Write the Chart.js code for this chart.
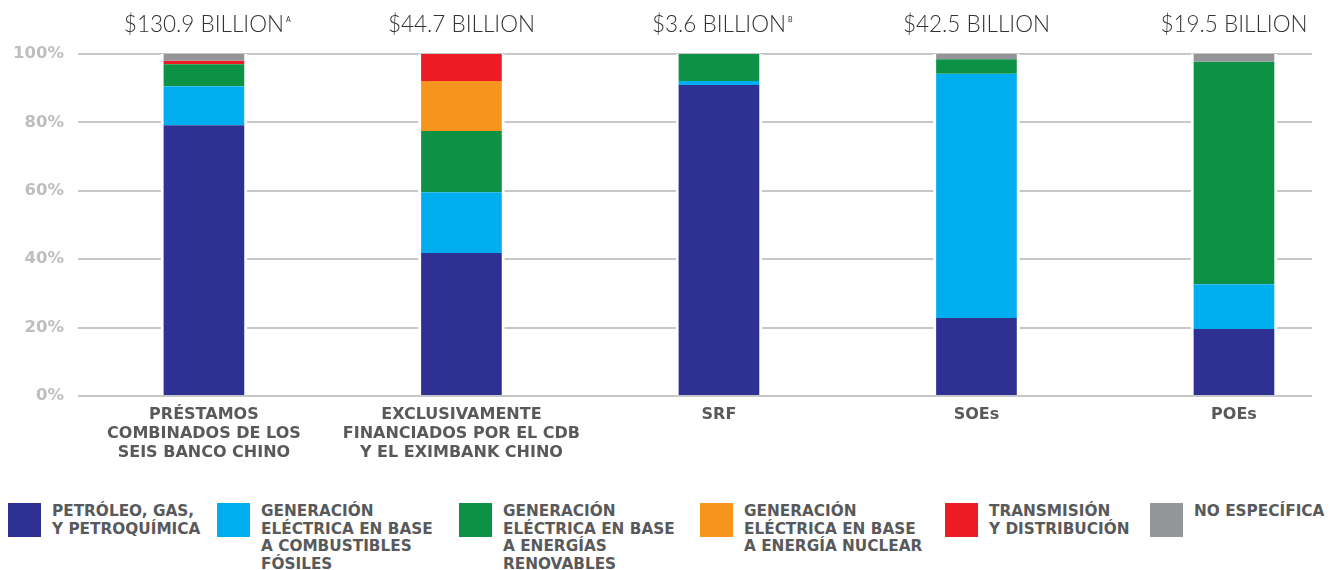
<!DOCTYPE html>
<html>
<head>
<meta charset="utf-8">
<script src="https://cdn.jsdelivr.net/npm/chart.js@4/dist/chart.umd.min.js"></script>
<style>
  html, body { margin: 0; padding: 0; background: #fff; width: 1333px; height: 570px; overflow: hidden; }
  #wrap { position: relative; width: 1333px; height: 570px; }
  #chart { position: absolute; left: 0; top: 0; }
  .lg-item { position: absolute; top: 503px; display: flex; align-items: flex-start; }
  .lg-box { width: 33px; height: 34px; flex: none; }
  .lg-text { margin-left: 11px; margin-top: 0px; font-family: "DejaVu Sans", sans-serif; font-weight: bold;
             font-size: 15.3px; line-height: 17.7px; color: #58595b; white-space: pre-line; }
</style>
</head>
<body>
<div id="wrap">
  <canvas id="chart" width="1333" height="470"></canvas>
  <div id="legend"></div>
</div>
<script>
// ---- data ----
const categories = [
  ["PRÉSTAMOS", "COMBINADOS DE LOS", "SEIS BANCO CHINO"],
  ["EXCLUSIVAMENTE", "FINANCIADOS POR EL CDB", "Y EL EXIMBANK CHINO"],
  ["SRF"],
  ["SOEs"],
  ["POEs"]
];
const totals = ["$130.9 BILLION", "$44.7 BILLION", "$3.6 BILLION", "$42.5 BILLION", "$19.5 BILLION"];
const totalNotes = ["A", "", "B", "", ""];

const seriesNames = [
  ["PETRÓLEO, GAS,", "Y PETROQUÍMICA"],
  ["GENERACIÓN", "ELÉCTRICA EN BASE", "A COMBUSTIBLES", "FÓSILES"],
  ["GENERACIÓN", "ELÉCTRICA EN BASE", "A ENERGÍAS", "RENOVABLES"],
  ["GENERACIÓN", "ELÉCTRICA EN BASE", "A ENERGÍA NUCLEAR"],
  ["TRANSMISIÓN", "Y DISTRIBUCIÓN"],
  ["NO ESPECÍFICA"]
];
const petroleo     = [79.2, 41.8, 90.9, 22.8, 19.6];
const fosiles      = [11.4, 17.8,  1.2, 71.4, 13.1];
const renovables   = [ 6.4, 17.9,  7.9,  4.3, 65.0];
const nuclear      = [ 0.0, 14.6,  0.0,  0.0,  0.0];
const transmision  = [ 1.0,  7.9,  0.0,  0.0,  0.0];
const noEspecifica = [ 2.0,  0.0,  0.0,  1.5,  2.3];

const yTickValues = [0, 20, 40, 60, 80, 100];

// ---- styles ----
const seriesColors = ["#2e3192", "#00aeef", "#0d9245", "#f7941d", "#ed1c24", "#939598"];
const legendLeft = [8, 217, 459, 700, 945, 1150];

const seriesValues = [petroleo, fosiles, renovables, nuclear, transmision, noEspecifica];

const datasets = seriesValues.map((vals, s) => ({
  label: seriesNames[s].join(" "),
  data: vals.map((v, i) => ({ x: i, y: v })),
  backgroundColor: seriesColors[s],
  borderColor: "#ffffff",
  borderWidth: { left: 3, right: 3, top: 0, bottom: 0 },
  borderSkipped: false,
  barThickness: 86
}));

const topLabels = {
  id: "topLabels",
  afterDatasetsDraw(chart) {
    const ctx = chart.ctx;
    const xs = chart.scales.x;
    ctx.save();
    ctx.fillStyle = "#333335";
    ctx.textBaseline = "alphabetic";
    totals.forEach((t, i) => {
      const x = xs.getPixelForValue(i);
      ctx.font = "300 22.5px Lato, 'Open Sans', sans-serif";
      ctx.textAlign = "center";
      ctx.fillText(t, x, 32);
      if (totalNotes[i]) {
        const w = ctx.measureText(t).width;
        ctx.font = "400 7px Lato, sans-serif";
        ctx.textAlign = "left";
        ctx.fillText(totalNotes[i], x + w / 2 + 2, 22);
      }
    });
    ctx.restore();
  }
};

new Chart(document.getElementById("chart"), {
  type: "bar",
  data: { datasets },
  plugins: [topLabels],
  options: {
    responsive: false,
    animation: false,
    devicePixelRatio: 1,
    layout: { padding: { top: 54, right: 21, left: 0, bottom: 0 } },
    plugins: { legend: { display: false }, tooltip: { enabled: false }, title: { display: false } },
    scales: {
      x: {
        type: "linear",
        stacked: true,
        offset: false,
        min: -0.489,
        max: 4.303,
        grid: { display: false, drawTicks: false, offset: false },
        border: { display: false },
        afterBuildTicks(scale) { scale.ticks = categories.map((c, i) => ({ value: i })); },
        afterFit(scale) { scale.height = 74; },
        ticks: {
          autoSkip: false,
          maxRotation: 0,
          padding: 9,
          color: "#58595b",
          font: { family: "'DejaVu Sans', sans-serif", weight: "bold", size: 16, lineHeight: 1.2 },
          callback: (v) => categories[v] || ""
        }
      },
      y: {
        stacked: true,
        min: 0,
        max: 100,
        grid: { color: "#c6c7c9", lineWidth: 2, drawTicks: false },
        border: { display: false },
        afterBuildTicks(scale) { scale.ticks = yTickValues.map(v => ({ value: v })); },
        afterFit(scale) { scale.width = 78; },
        ticks: {
          padding: 14,
          color: "#bcbec0",
          font: { family: "'DejaVu Sans', sans-serif", weight: "bold", size: 16.5 },
          callback: (v) => v + "%"
        }
      }
    }
  }
});

// ---- HTML legend ----
const legend = document.getElementById("legend");
seriesNames.forEach((name, s) => {
  const item = document.createElement("div");
  item.className = "lg-item";
  item.style.left = legendLeft[s] + "px";
  const box = document.createElement("div");
  box.className = "lg-box";
  box.style.background = seriesColors[s];
  const txt = document.createElement("div");
  txt.className = "lg-text";
  txt.textContent = name.join("\n");
  item.appendChild(box);
  item.appendChild(txt);
  legend.appendChild(item);
});
</script>
</body>
</html>
